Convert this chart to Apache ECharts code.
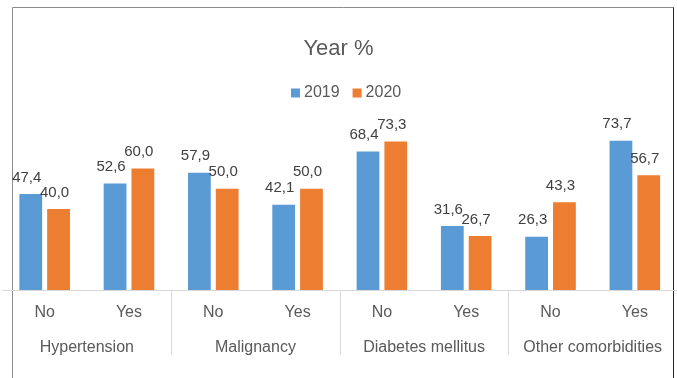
<!DOCTYPE html>
<html>
<head>
<meta charset="utf-8">
<script src="https://cdn.jsdelivr.net/npm/echarts@6/dist/echarts.min.js"></script>
<style>
  html, body { margin: 0; padding: 0; background: #fff; }
  #chart { width: 677px; height: 378px; }
</style>
</head>
<body>
<div id="chart"></div>
<script>
// Comorbidity groups and the No/Yes answer within each group
const groups = ['Hypertension', 'Malignancy', 'Diabetes mellitus', 'Other comorbidities'];
const answers = ['No', 'Yes'];
const seriesNames = ['2019', '2020'];

// Percentages per year, in order: group1 No, group1 Yes, group2 No, ...
const values2019 = [47.4, 52.6, 57.9, 42.1, 68.4, 31.6, 26.3, 73.7];
const values2020 = [40.0, 60.0, 50.0, 50.0, 73.3, 26.7, 43.3, 56.7];

const subCategories = [];
groups.forEach(() => answers.forEach(a => subCategories.push(a)));

const FONT = '"Liberation Sans", Arial, sans-serif';
const fmt = p => p.value.toFixed(1).replace('.', ',');

const chart = echarts.init(document.getElementById('chart'), null, { renderer: 'canvas' });

const labelStyle = {
  show: true,
  position: 'top',
  distance: 9,
  offset: [-4, 0],
  formatter: fmt,
  color: '#404040',
  fontFamily: FONT,
  fontSize: 15
};

chart.setOption({
  backgroundColor: '#ffffff',
  animation: false,
  title: {
    text: 'Year %',
    left: 'center',
    top: 33,
    textStyle: { color: '#595959', fontFamily: FONT, fontSize: 22, fontWeight: 'normal' }
  },
  legend: {
    data: seriesNames,
    left: 286,
    top: 80,
    icon: 'rect',
    itemWidth: 9,
    itemHeight: 9,
    itemGap: 13,
    textStyle: { color: '#595959', fontFamily: FONT, fontSize: 16, padding: [0, 0, 0, -1] }
  },
  grid: { left: 2.5, right: -5.5, top: 128, bottom: 88, containLabel: false },
  xAxis: [
    {
      type: 'category',
      data: subCategories,
      position: 'bottom',
      axisLine: { lineStyle: { color: '#d9d9d9', width: 1 } },
      axisTick: {
        show: true,
        interval: (i) => i > 0 && i % 2 === 0,
        length: 65,
        lineStyle: { color: '#d9d9d9' }
      },
      axisLabel: { color: '#595959', fontFamily: FONT, fontSize: 16, margin: 15, interval: 0 }
    },
    {
      type: 'category',
      data: groups,
      position: 'bottom',
      offset: 47,
      axisLine: { show: false },
      axisTick: { show: false },
      axisLabel: { color: '#595959', fontFamily: FONT, fontSize: 16, margin: 3, interval: 0 }
    }
  ],
  yAxis: {
    type: 'value',
    min: 0,
    max: 80,
    show: false,
    splitLine: { show: false }
  },
  series: [
    {
      name: seriesNames[0],
      type: 'bar',
      xAxisIndex: 0,
      data: values2019,
      barGap: '22%',
      barCategoryGap: '40%',
      itemStyle: { color: '#5B9BD5' },
      label: labelStyle
    },
    {
      name: seriesNames[1],
      type: 'bar',
      xAxisIndex: 0,
      data: values2020,
      barGap: '22%',
      barCategoryGap: '40%',
      itemStyle: { color: '#ED7D31' },
      label: labelStyle
    }
  ],
  graphic: [
    { type: 'line', shape: { x1: 12.5, y1: 7.5, x2: 674, y2: 7.5 }, style: { stroke: '#8c8c8c', lineWidth: 1 } },
    { type: 'line', shape: { x1: 12.5, y1: 7.5, x2: 12.5, y2: 380 }, style: { stroke: '#8c8c8c', lineWidth: 1 } },
    { type: 'line', shape: { x1: 673.5, y1: 7.5, x2: 673.5, y2: 380 }, style: { stroke: '#262626', lineWidth: 1 } }
  ]
});
</script>
</body>
</html>
